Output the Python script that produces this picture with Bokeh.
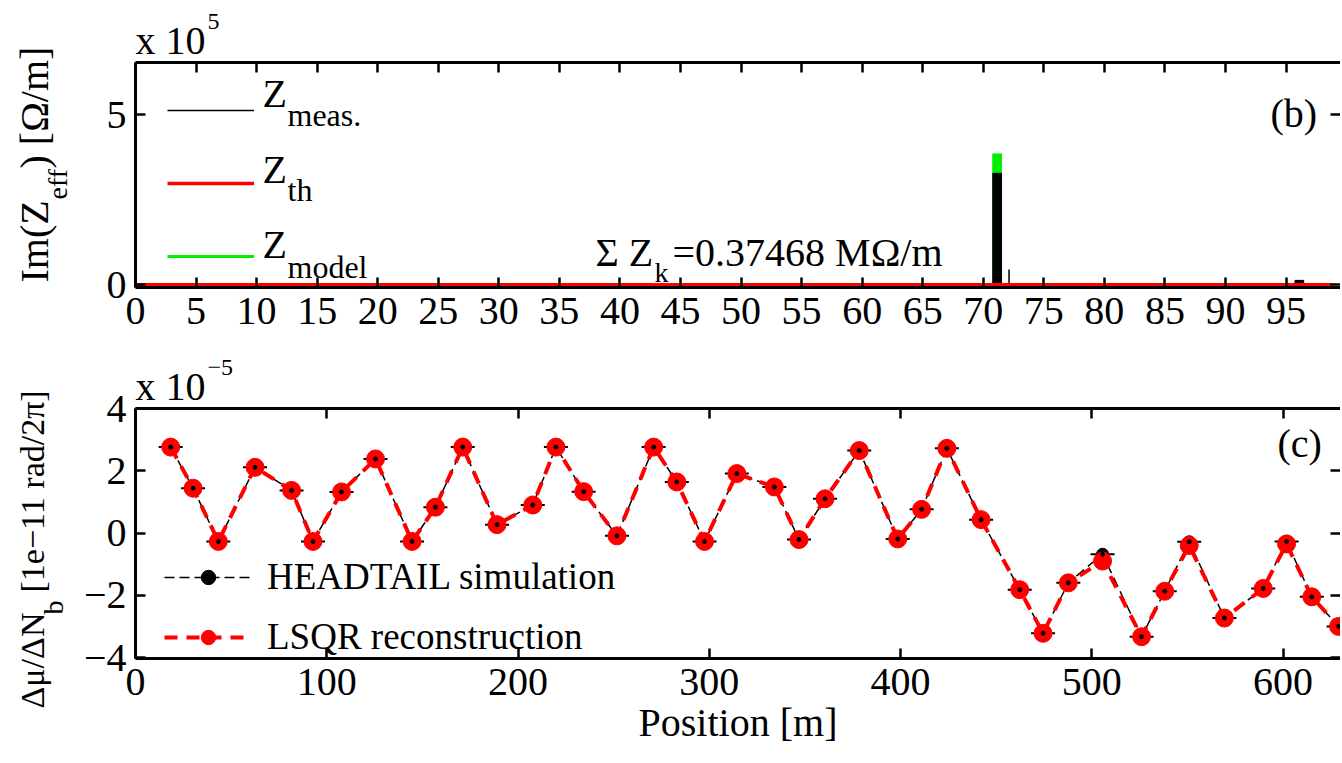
import math
from bokeh.plotting import figure
from bokeh.models import (Range1d, LinearAxis, FixedTicker, Legend, LegendItem, Label, Title)
from bokeh.layouts import column, row
from bokeh.embed import file_html
from bokeh.resources import INLINE

FONT = "Liberation Serif"

# ---------------- panel (b): Im(Z_eff) in units of 1e5 Ohm/m ----------------
th_pos = [0.0, 98.8]
th_val = [0.0, 0.0]
meas_base_pos = [0.0, 98.8]
meas_base_val = [0.0, 0.0]
model_base_pos = [0.0, 98.8]
model_base_val = [0.0, 0.0]
meas_bar_pos = [71.15, 96.1]
meas_bar_val = [3.28, 0.13]
meas_spike_pos = [72.13]
meas_spike_val = [0.45]
model_bar_pos = [71.15]
model_bar_val = [3.85]
top_xticks = list(range(0, 100, 5))
top_yticks = [0, 5]
legend_subscripts = ["meas.", "th", "model"]

# ---------------- panel (c): tune shift per bunch intensity (x 1e-5) ----------------
bpm_pos = [18.4, 30.1, 43.3, 62.5, 81.6, 92.8, 107.7, 125.5, 144.6, 156.8,
           171.1, 189.0, 207.7, 219.8, 234.3, 251.7, 270.9, 283.0, 297.5, 314.4,
           334.0, 346.9, 360.5, 378.4, 398.5, 411.0, 424.2, 442.1, 462.3, 474.5,
           487.7, 505.6, 526.0, 538.1, 550.9, 569.3, 589.6, 601.8, 615.0, 629.0]
headtail = [2.76, 1.44, -0.27, 2.11, 1.37, -0.27, 1.32, 2.38, -0.27, 0.83,
            2.76, 0.27, 0.90, 2.76, 1.33, -0.09, 2.76, 1.64, -0.27, 1.91,
            1.48, -0.21, 1.10, 2.65, -0.19, 0.76, 2.72, 0.43, -1.82, -3.22,
            -1.60, -0.68, -3.33, -1.87, -0.28, -2.73, -1.78, -0.27, -2.05, -3.00]
lsqr = [2.76, 1.44, -0.27, 2.11, 1.37, -0.27, 1.32, 2.38, -0.27, 0.83,
        2.76, 0.27, 0.90, 2.76, 1.33, -0.09, 2.76, 1.64, -0.27, 1.91,
        1.48, -0.21, 1.10, 2.65, -0.19, 0.76, 2.72, 0.43, -1.82, -3.22,
        -1.60, -0.90, -3.33, -1.87, -0.40, -2.73, -1.78, -0.35, -2.05, -3.00]
bot_xticks = [0, 100, 200, 300, 400, 500, 600]
bot_yticks = [-4, -2, 0, 2, 4]
bot_ylabels = {-4: "\u22124", -2: "\u22122", 0: "0", 2: "2", 4: "4"}

GUTTER_W = 80
TOTAL_H = 759


def style_axis(ax, ticks, labels=True, line=True, standoff=9):
    ax.ticker = FixedTicker(ticks=ticks)
    ax.axis_line_width = 3
    ax.axis_line_color = "black" if line else None
    ax.major_tick_line_width = 2.5
    ax.major_tick_line_color = "black"
    ax.major_tick_in = 10
    ax.major_tick_out = 0
    ax.minor_tick_line_color = None
    ax.major_label_text_font = FONT
    ax.major_label_text_color = "black"
    if labels:
        ax.major_label_text_font_size = "40px"
        ax.major_label_standoff = standoff
    else:
        ax.major_label_overrides = {t: "" for t in ticks}
        ax.major_label_text_font_size = "1px"
        ax.major_label_standoff = 0


def lab(p, x, y, text, size=40, angle=0.0):
    # (x, y) is the middle of the text line (screen units, frame-relative)
    p.add_layout(Label(x=x, y=y, x_units="screen", y_units="screen", text=text,
                       angle=angle, text_font=FONT, text_font_size=f"{size}px",
                       text_color="black", text_baseline="middle", text_align="left"))


def title(text, size, offset, standoff):
    return Title(text=text, align="left", vertical_align="bottom", standoff=standoff,
                 offset=offset, text_font=FONT, text_font_size=f"{size}px",
                 text_font_style="normal", text_color="black")


def base_fig(width, height, xr, yr, top, bottom):
    p = figure(width=width, height=height, x_range=xr, y_range=yr,
               output_backend="svg", toolbar_location=None,
               min_border_left=53, min_border_right=0,
               min_border_top=top, min_border_bottom=bottom)
    p.outline_line_color = None
    p.xgrid.visible = False
    p.ygrid.visible = False
    p.background_fill_color = "white"
    p.border_fill_color = "white"
    return p


# ======================= top figure (b) =======================
p1 = base_fig(1260, 355, Range1d(0, 99.5), Range1d(-0.08, 6.54), 62, 68)
p1.add_layout(LinearAxis(), "above")
p1.add_layout(LinearAxis(), "right")
style_axis(p1.below[0], top_xticks, True, True, 10)
style_axis(p1.above[0], top_xticks, False)
style_axis(p1.left[0], top_yticks, True, True, 9)
style_axis(p1.right[0], top_yticks, False, False)
p1.add_layout(title("x 10", 40, 0, 0), "above")
p1.add_layout(title("5", 24, 72, -27), "above")

p1.vbar(x=model_bar_pos, top=model_bar_val, bottom=0, width=0.72, color="#00ee00")
p1.vbar(x=meas_bar_pos, top=meas_bar_val, bottom=0, width=0.72, color="black")
p1.segment(x0=meas_spike_pos, y0=[0] * len(meas_spike_pos), x1=meas_spike_pos,
           y1=meas_spike_val, line_width=1.5, color="black")
r_meas = p1.line(meas_base_pos, meas_base_val, color="black", line_width=1.5)
r_model = p1.line(model_base_pos, model_base_val, color="#00ee00", line_width=3)
r_th = p1.line(th_pos, th_val, color="red", line_width=3.5)

leg1 = Legend(items=[LegendItem(label="", renderers=[r_meas]),
                     LegendItem(label="", renderers=[r_th]),
                     LegendItem(label="", renderers=[r_model])],
              location=(32, 11), glyph_width=87, glyph_height=40, spacing=33,
              padding=0, margin=0, label_standoff=0, label_width=0, label_height=0,
              border_line_color=None, background_fill_alpha=0)
p1.add_layout(leg1)

for zy, (sub, sy) in zip([194.5, 118.5, 43.5], zip(legend_subscripts, [172.8, 97.8, 20.8])):
    lab(p1, 127, zy, "Z", 40)
    lab(p1, 152, sy, sub, 32)
lab(p1, 460, 35.5, "\u03a3 Z", 40)
lab(p1, 519, 15.5, "k", 28)
lab(p1, 537, 35.5, "=0.37468 M\u03a9/m", 40)
lab(p1, 1135, 174, "(b)", 40)

# ======================= bottom figure (c) =======================
p2 = base_fig(1260, 404, Range1d(0, 630), Range1d(-4.03, 4.0), 53, 101)
p2.add_layout(LinearAxis(), "above")
p2.add_layout(LinearAxis(), "right")
style_axis(p2.below[0], bot_xticks, True, True, 10)
style_axis(p2.above[0], bot_xticks, False)
style_axis(p2.left[0], bot_yticks, True, True, 9)
style_axis(p2.right[0], bot_yticks, False, False)
p2.left[0].major_label_overrides = bot_ylabels
p2.below[0].axis_label = "Position [m]"
p2.below[0].axis_label_text_font = FONT
p2.below[0].axis_label_text_font_size = "40px"
p2.below[0].axis_label_text_font_style = "normal"
p2.below[0].axis_label_text_color = "black"
p2.below[0].axis_label_standoff = 2
p2.add_layout(title("x 10", 40, 0, 0), "above")
p2.add_layout(title("\u22125", 24, 72, -27), "above")

rb_line = p2.line(bpm_pos, headtail, color="black", line_width=1.5, line_dash="10 5")
p2.scatter(bpm_pos, headtail, marker="dash", size=24, line_width=2, color="black")
rb_dot = p2.scatter(bpm_pos, headtail, marker="circle", size=12, color="black")
rr_line = p2.line(bpm_pos, lsqr, color="red", line_width=4, line_dash="13 9")
rr_dot = p2.scatter(bpm_pos, lsqr, marker="circle", size=18, color="red")
p2.scatter(bpm_pos, headtail, marker="circle", size=4, color="black")

leg2 = Legend(items=[LegendItem(label="HEADTAIL simulation", renderers=[rb_line, rb_dot]),
                     LegendItem(label="LSQR reconstruction", renderers=[rr_line, rr_dot])],
              location=(29, 0), glyph_width=88, glyph_height=36, spacing=17,
              padding=0, margin=0, label_standoff=15, border_line_color=None,
              background_fill_alpha=0, label_text_font=FONT, label_text_font_size="37px",
              label_text_color="black")
p2.add_layout(leg2)
lab(p2, 1142, 215, "(c)", 40)

# ======================= left gutter with the rotated y-axis titles =======================
g = figure(width=GUTTER_W, height=TOTAL_H, x_range=Range1d(0, GUTTER_W), y_range=Range1d(0, TOTAL_H),
           output_backend="svg", toolbar_location=None, x_axis_type=None, y_axis_type=None,
           min_border_left=0, min_border_right=0, min_border_top=0, min_border_bottom=0)
g.outline_line_color = None
g.xgrid.visible = False
g.ygrid.visible = False
up = math.pi / 2
lab(g, 33.5, TOTAL_H - 282, "Im(Z", 40, angle=up)
lab(g, 56.5, TOTAL_H - 199, "eff", 28, angle=up)
lab(g, 33.5, TOTAL_H - 168, ") [\u03a9/m]", 40, angle=up)
lab(g, 31.5, TOTAL_H - 708, "\u0394\u03bc/\u0394N", 34, angle=up)
lab(g, 52.5, TOTAL_H - 614, "b", 28, angle=up)
lab(g, 31.5, TOTAL_H - 592, "[1e\u221211 rad/2\u03c0]", 34, angle=up)

layout = row(g, column(p1, p2, spacing=0), spacing=0)
open("out.html", "w").write(file_html(layout, INLINE))
